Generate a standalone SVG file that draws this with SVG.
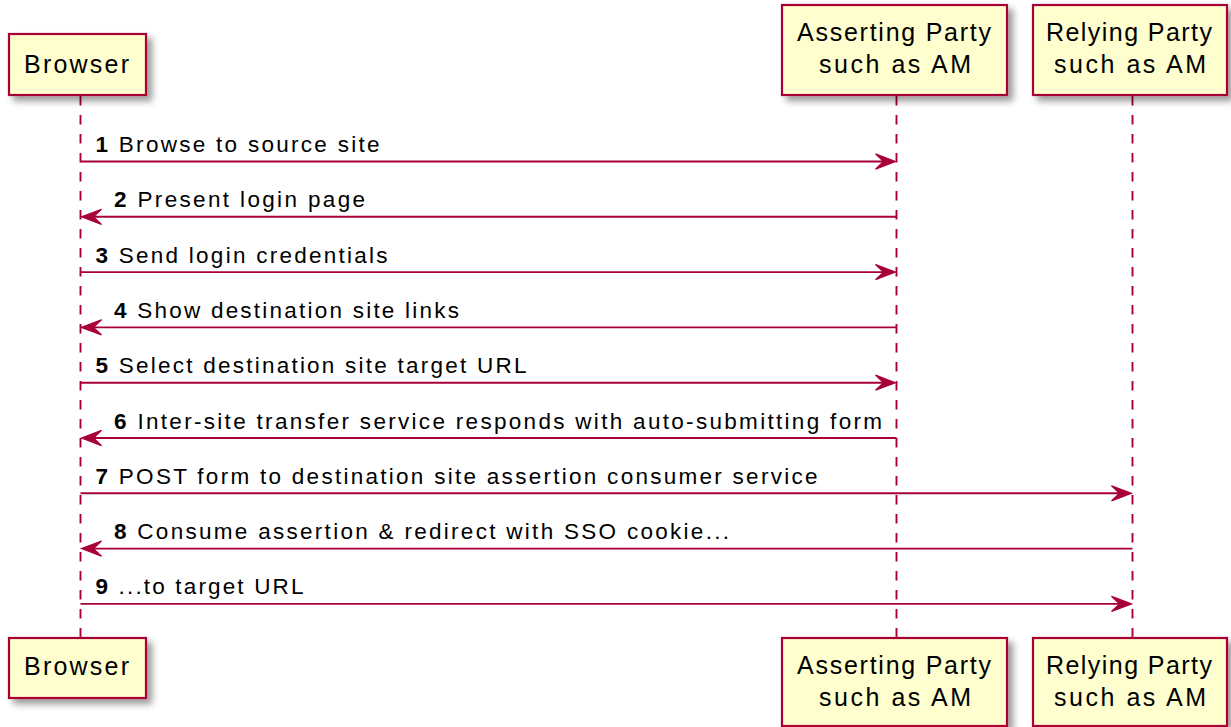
<svg xmlns="http://www.w3.org/2000/svg" width="1231" height="727" viewBox="0 0 1231 727">
<style>
.box{fill:#FEFECE;stroke:#A80036;stroke-width:2.2;filter:url(#sh)}
.pt{font-family:"Liberation Sans",Arial,sans-serif;font-size:25px;fill:#000}
.life{stroke:#A80036;stroke-width:1.9;stroke-dasharray:9.5,9.5;fill:none}
.msg{stroke:#A80036;stroke-width:1.9;fill:none}
.head{fill:#A80036;stroke:#A80036;stroke-width:1.2;stroke-linejoin:miter}
.mt{font-family:"Liberation Sans",Arial,sans-serif;font-size:22.5px;fill:#000}
.n{font-weight:bold}
</style>
<defs>
<filter id="sh" x="-10%" y="-10%" width="130%" height="140%">
<feDropShadow dx="5" dy="5" stdDeviation="3.5" flood-color="#000" flood-opacity="0.4"/>
</filter>
<polygon id="hr" points="0,0 -20,-7.6 -12,0 -20,7.6"/>
<polygon id="hl" points="0,0 20,-7.6 12,0 20,7.6"/>
</defs>
<rect width="1231" height="727" fill="#FFFFFF"/>
<g id="lifelines">
<line class="life" x1="80.5" y1="96" x2="80.5" y2="638"/>
<line class="life" x1="896.5" y1="96" x2="896.5" y2="638"/>
<line class="life" x1="1132.5" y1="96" x2="1132.5" y2="638"/>
</g>
<g id="browser">
<rect class="box" x="9" y="34" width="137" height="61"/>
<text class="pt" x="24" y="73.3" textLength="105" lengthAdjust="spacing">Browser</text>
<rect class="box" x="9" y="638" width="137" height="60"/>
<text class="pt" x="24" y="675" textLength="105" lengthAdjust="spacing">Browser</text>
</g>
<g id="asserting-party">
<rect class="box" x="782" y="5" width="225" height="90"/>
<text class="pt" x="797" y="40.8" textLength="194" lengthAdjust="spacing">Asserting Party</text>
<text class="pt" x="819" y="72.8" textLength="152" lengthAdjust="spacing">such as AM</text>
<rect class="box" x="782" y="638" width="225" height="88"/>
<text class="pt" x="797" y="673.6" textLength="194" lengthAdjust="spacing">Asserting Party</text>
<text class="pt" x="819" y="705.6" textLength="152" lengthAdjust="spacing">such as AM</text>
</g>
<g id="relying-party">
<rect class="box" x="1033" y="5" width="194" height="90"/>
<text class="pt" x="1046" y="40.8" textLength="166" lengthAdjust="spacing">Relying Party</text>
<text class="pt" x="1054" y="72.8" textLength="152" lengthAdjust="spacing">such as AM</text>
<rect class="box" x="1033" y="638" width="194" height="88"/>
<text class="pt" x="1046" y="673.6" textLength="166" lengthAdjust="spacing">Relying Party</text>
<text class="pt" x="1054" y="705.6" textLength="152" lengthAdjust="spacing">such as AM</text>
</g>
<g id="messages">
<line class="msg" x1="80.5" y1="161.5" x2="890" y2="161.5"/>
<use href="#hr" class="head" x="895.5" y="161.5"/>
<text class="mt" x="95.5" y="152" textLength="284" lengthAdjust="spacing"><tspan class="n">1</tspan> Browse to source site</text>

<line class="msg" x1="87" y1="216.8" x2="896.5" y2="216.8"/>
<use href="#hl" class="head" x="81.5" y="216.8"/>
<text class="mt" x="114" y="207.3" textLength="251" lengthAdjust="spacing"><tspan class="n">2</tspan> Present login page</text>

<line class="msg" x1="80.5" y1="272.1" x2="890" y2="272.1"/>
<use href="#hr" class="head" x="895.5" y="272.1"/>
<text class="mt" x="95.5" y="262.6" textLength="292" lengthAdjust="spacing"><tspan class="n">3</tspan> Send login credentials</text>

<line class="msg" x1="87" y1="327.4" x2="896.5" y2="327.4"/>
<use href="#hl" class="head" x="81.5" y="327.4"/>
<text class="mt" x="114" y="317.9" textLength="345" lengthAdjust="spacing"><tspan class="n">4</tspan> Show destination site links</text>

<line class="msg" x1="80.5" y1="382.7" x2="890" y2="382.7"/>
<use href="#hr" class="head" x="895.5" y="382.7"/>
<text class="mt" x="95.5" y="373.2" textLength="431" lengthAdjust="spacing"><tspan class="n">5</tspan> Select destination site target URL</text>

<line class="msg" x1="87" y1="438" x2="896.5" y2="438"/>
<use href="#hl" class="head" x="81.5" y="438"/>
<text class="mt" x="114" y="428.5" textLength="768" lengthAdjust="spacing"><tspan class="n">6</tspan> Inter-site transfer service responds with auto-submitting form</text>

<line class="msg" x1="80.5" y1="493.3" x2="1126" y2="493.3"/>
<use href="#hr" class="head" x="1131.5" y="493.3"/>
<text class="mt" x="95.5" y="483.8" textLength="722" lengthAdjust="spacing"><tspan class="n">7</tspan> POST form to destination site assertion consumer service</text>

<line class="msg" x1="87" y1="548.6" x2="1132.5" y2="548.6"/>
<use href="#hl" class="head" x="81.5" y="548.6"/>
<text class="mt" x="114" y="539.1" textLength="615" lengthAdjust="spacing"><tspan class="n">8</tspan> Consume assertion &amp; redirect with SSO cookie...</text>

<line class="msg" x1="80.5" y1="603.9" x2="1126" y2="603.9"/>
<use href="#hr" class="head" x="1131.5" y="603.9"/>
<text class="mt" x="95.5" y="594.4" textLength="208" lengthAdjust="spacing"><tspan class="n">9</tspan> ...to target URL</text>
</g>
</svg>
